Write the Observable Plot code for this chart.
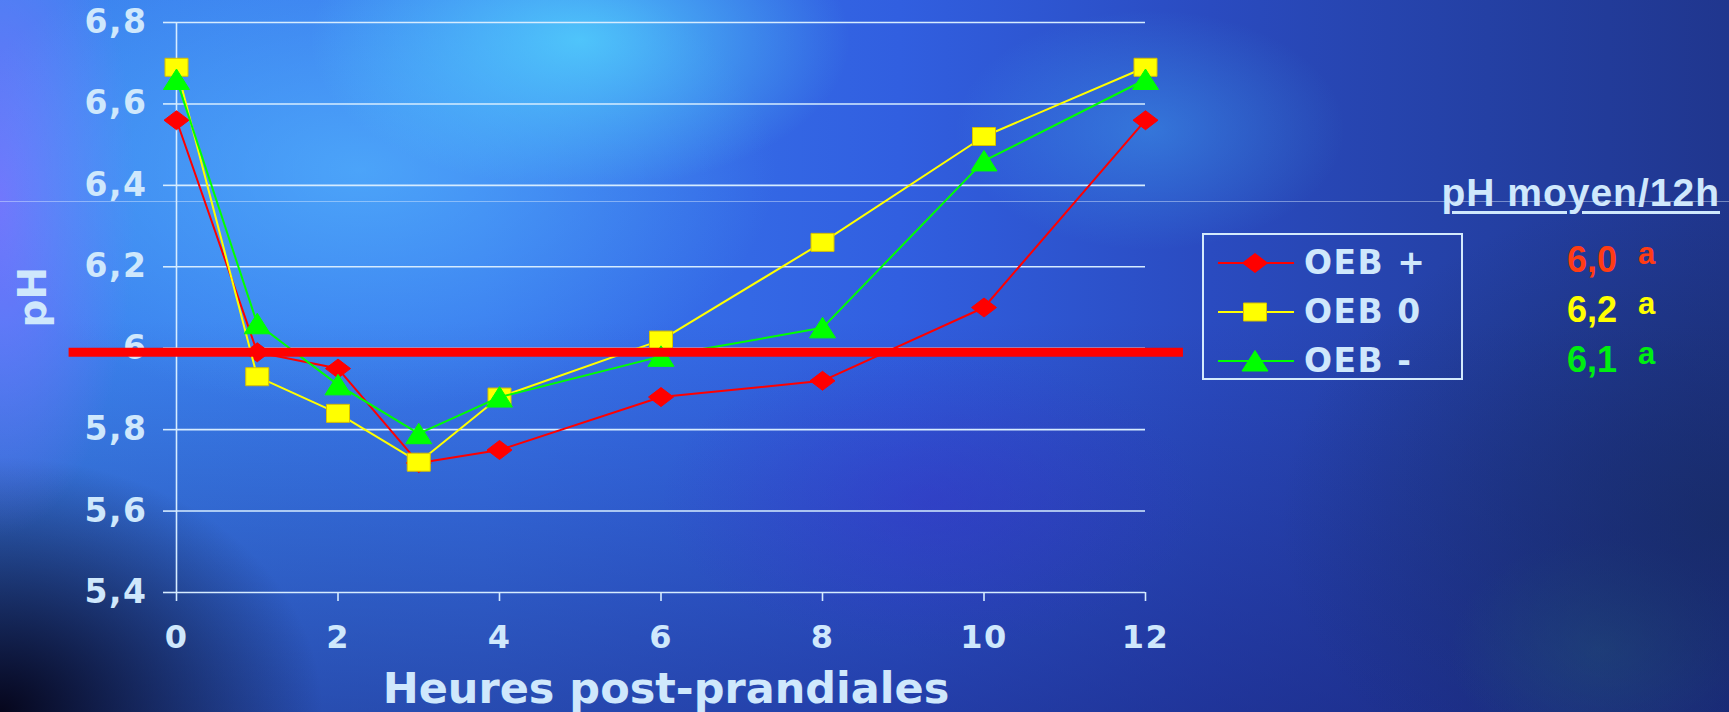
<!DOCTYPE html>
<html>
<head>
<meta charset="utf-8">
<script src="https://cdn.jsdelivr.net/npm/d3@7"></script>
<script src="https://cdn.jsdelivr.net/npm/@observablehq/plot@0.6"></script>
<style>
html, body { margin: 0; padding: 0; width: 1729px; height: 712px; overflow: hidden; }
body {
  position: relative;
  background:
    radial-gradient(ellipse 360px 200px at 580px 40px, rgba(85,220,255,0.75), rgba(85,220,255,0) 75%),
    radial-gradient(ellipse 520px 300px at 360px 170px, rgba(85,185,255,0.65), rgba(85,185,255,0) 80%),
    radial-gradient(ellipse 260px 160px at 1150px 130px, rgba(70,190,255,0.35), rgba(70,190,255,0) 75%),
    radial-gradient(ellipse 170px 420px at 0px 200px, rgba(125,110,255,0.85), rgba(125,110,255,0) 80%),
    radial-gradient(ellipse 380px 300px at 0px 712px, rgba(6,6,28,1), rgba(6,6,28,0) 85%),
    radial-gradient(ellipse 360px 200px at 930px 500px, rgba(60,40,200,0.35), rgba(60,40,200,0) 75%),
    radial-gradient(ellipse 560px 420px at 1729px 520px, rgba(22,42,95,0.7), rgba(22,42,95,0) 80%),
    radial-gradient(ellipse 200px 150px at 1600px 650px, rgba(40,100,130,0.45), rgba(40,100,130,0) 75%),
    linear-gradient(to bottom, rgba(0,0,0,0) 45%, rgba(22,30,115,0.5) 100%),
    linear-gradient(to right, #3c86ef 0%, #3978ee 28%, #315fe0 52%, #2a4bc0 70%, #2440a4 86%, #20368e 100%);
  font-family: "DejaVu Sans", sans-serif;
}
#chart { position: absolute; left: 0; top: 0; }
#chart svg g[aria-label$="tick label"] text { letter-spacing: 1.5px; }
#hairline { position: absolute; left: 0; top: 201px; width: 1729px; height: 1px; background: rgba(220,235,255,0.45); }
#legend { position: absolute; left: 1202px; top: 233px; width: 257px; height: 143px; border: 2px solid #d4eafc; }
.lg-row { position: absolute; left: 0; height: 34px; width: 257px; }
.lg-row svg { position: absolute; left: 12px; top: 2px; }
.lg-row span { position: absolute; left: 100px; top: 0; font: bold 33px/34px "DejaVu Sans", sans-serif; color: #cfe8fc; letter-spacing: 1.5px; white-space: nowrap; }
#meanTitle { position: absolute; right: 9px; top: 173px; font: bold 39px/39px "Liberation Sans", Arial, sans-serif; color: #cfe8fc; letter-spacing: 1px; text-decoration: underline; text-decoration-thickness: 3px; text-underline-offset: 5px; white-space: nowrap; }
.mean { position: absolute; left: 1567px; font: bold 36px/36px "Liberation Sans", Arial, sans-serif; white-space: nowrap; }
.mean b { position: absolute; left: 71px; top: -4px; font: bold 31px/31px "Liberation Sans", Arial, sans-serif; }
</style>
</head>
<body>
<div id="hairline"></div>
<div id="chart"></div>
<div id="legend"></div>
<div id="meanTitle"></div>
<div id="means"></div>
<script>
// ---- data ----
const hours = [0, 1, 2, 3, 4, 6, 8, 10, 12];
const oebPlus  = [6.56, 5.99, 5.95, 5.718, 5.75, 5.88, 5.92, 6.10, 6.56];
const oebZero  = [6.69, 5.93, 5.84, 5.72, 5.88, 6.02, 6.26, 6.52, 6.69];
const oebMinus = [6.66, 6.06, 5.91, 5.79, 5.88, 5.98, 6.05, 6.46, 6.66];
const seriesNames = ["OEB +", "OEB 0", "OEB -"];
const meanTitle = "pH moyen/12h";
const meanValues = ["6,0", "6,2", "6,1"];
const meanLetters = ["a", "a", "a"];
const yTicks = [5.4, 5.6, 5.8, 6.0, 6.2, 6.4, 6.6, 6.8];
const xTicks = [0, 2, 4, 6, 8, 10, 12];
const refLevel = 5.99;            // thick red reference line
const refExtent = [-1.33, 12.47]; // hours span of the reference line
const xTitle = "Heures post-prandiales";
const yTitle = "pH";

// ---- styles ----
const colors = ["#ff0000", "#ffff00", "#00ff00"];
const dotStroke = ["#ff0000", "#d8c000", "#00ff00"];
const meanColors = ["#ff3c14", "#ffff00", "#00ee10"];
const ink = "#cfe8fc";

// marker shapes (wider than tall, as in the original)
const diamondSym = {draw(c) { c.moveTo(0, -9.5); c.lineTo(12.5, 0); c.lineTo(0, 9.5); c.lineTo(-12.5, 0); c.closePath(); }};
const squareSym = {draw(c) { c.moveTo(-11.5, -9); c.lineTo(11.5, -9); c.lineTo(11.5, 9); c.lineTo(-11.5, 9); c.closePath(); }};
const triangleSym = {draw(c) { c.moveTo(0, -10.5); c.lineTo(13, 10); c.lineTo(-13, 10); c.closePath(); }};
const symbols = [diamondSym, squareSym, triangleSym];

const seriesValues = [oebPlus, oebZero, oebMinus];
const series = seriesValues.map((vals, s) => hours.map((h, i) => ({h, v: vals[i], s})));
const fmt = d => String(d).replace(".", ",");

const marks = [
  Plot.gridY(yTicks, {stroke: "#d6ecff", strokeOpacity: 1, strokeWidth: 1.6}),
  Plot.ruleX([0], {y1: 5.4, y2: 6.8, stroke: "#d6ecff", strokeWidth: 1.6}),
  Plot.axisY({ticks: yTicks, tickSize: 13, tickPadding: 16, tickFormat: fmt, fontSize: 33, fontWeight: "bold", strokeWidth: 1.6, stroke: "#d6ecff", fill: ink, label: null}),
  Plot.axisX({ticks: xTicks, tickSize: 9, tickPadding: 24, tickFormat: fmt, fontSize: 32, fontWeight: "bold", strokeWidth: 1.6, stroke: "#d6ecff", fill: ink, label: null}),
  Plot.text([xTitle], {text: d => d, frameAnchor: "bottom", dx: 5, dy: 110, fontSize: 43, fontWeight: "bold", fill: ink}),
  Plot.text([yTitle], {text: d => d, frameAnchor: "left", dx: -143, dy: 20, rotate: -90, fontSize: 39, fontWeight: "bold", fill: ink})
];
series.forEach((d, s) => {
  marks.push(Plot.line(d, {x: "h", y: "v", stroke: colors[s], strokeWidth: 2, strokeLinejoin: "miter"}));
  marks.push(Plot.dot(d, {x: "h", y: "v", symbol: symbols[s], r: 10, fill: colors[s], stroke: dotStroke[s], strokeWidth: 1}));
});
marks.push(Plot.ruleY([refLevel], {x1: refExtent[0], x2: refExtent[1], stroke: "#ff0000", strokeWidth: 9}));

const chart = Plot.plot({
  width: 1729,
  height: 712,
  marginLeft: 176,
  marginRight: 584,
  marginTop: 22,
  marginBottom: 120,
  x: {domain: [0, 12]},
  y: {domain: [5.4, 6.8]},
  style: {background: "transparent", color: ink, fontFamily: "DejaVu Sans, sans-serif", overflow: "visible"},
  marks
});
document.getElementById("chart").appendChild(chart);

// ---- legend ----
const legend = d3.select("#legend");
seriesNames.forEach((name, s) => {
  const row = legend.append("div").attr("class", "lg-row").style("top", (11 + s * 49) + "px");
  const svg = row.append("svg").attr("width", 80).attr("height", 30);
  svg.append("line").attr("x1", 2).attr("x2", 78).attr("y1", 15).attr("y2", 15).attr("stroke", colors[s]).attr("stroke-width", 2);
  svg.append("path").attr("transform", "translate(39,15)")
    .attr("d", d3.symbol(symbols[s])())
    .attr("fill", colors[s]).attr("stroke", dotStroke[s]).attr("stroke-width", 1);
  row.append("span").text(name);
});

// ---- mean pH table ----
document.getElementById("meanTitle").textContent = meanTitle;
const means = d3.select("#means");
meanValues.forEach((v, i) => {
  const m = means.append("div").attr("class", "mean").style("top", (242 + i * 50) + "px").style("color", meanColors[i]);
  m.append("span").text(v);
  m.append("b").text(meanLetters[i]);
});
</script>
</body>
</html>
